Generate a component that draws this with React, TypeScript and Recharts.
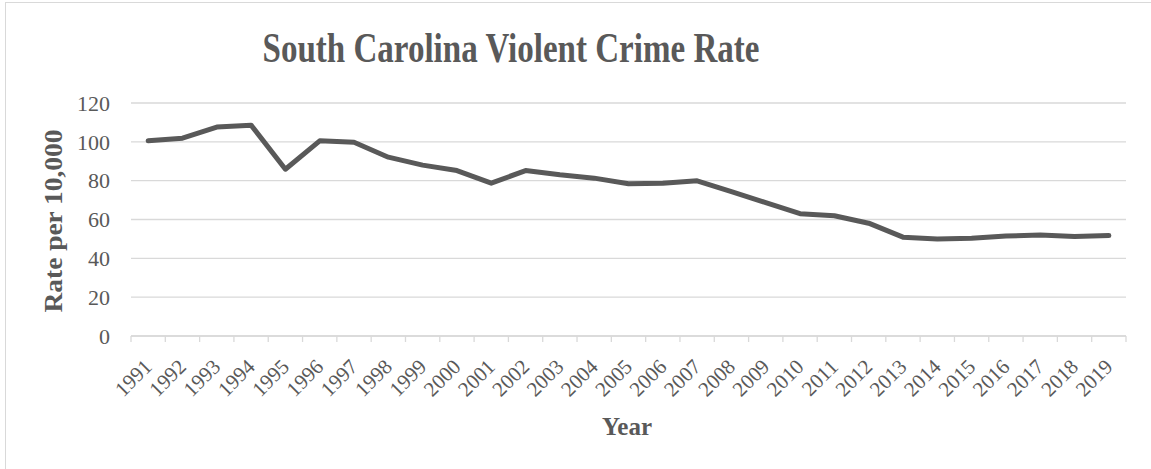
import { LineChart, Line, XAxis, YAxis, CartesianGrid } from "recharts";

const years = [
  "1991", "1992", "1993", "1994", "1995", "1996", "1997", "1998", "1999", "2000",
  "2001", "2002", "2003", "2004", "2005", "2006", "2007", "2008", "2009", "2010",
  "2011", "2012", "2013", "2014", "2015", "2016", "2017", "2018", "2019",
];

const rates = [
  100.5, 101.9, 107.6, 108.6, 85.9, 100.5, 99.8, 92.1, 88.0, 85.2,
  78.7, 85.2, 83.0, 81.3, 78.4, 78.7, 79.9, 74.4, 68.7, 63.0,
  61.9, 58.1, 50.9, 50.0, 50.3, 51.5, 52.0, 51.2, 51.7,
];

const yTicks = [0, 20, 40, 60, 80, 100, 120];

const data = years.map((year, i) => ({ year, rate: rates[i] }));

const FONT = "'Liberation Serif', 'Times New Roman', serif";
const TEXT = "#595959";
const GRID = "#d9d9d9";

const W = 1151;
const H = 469;
const PLOT_LEFT = 131;
const PLOT_RIGHT = 1126;
const PLOT_TOP = 103;
const PLOT_BOTTOM = 336;
const STEP = (PLOT_RIGHT - PLOT_LEFT) / years.length;

function YearTick(props: any) {
  const { x, index, payload } = props;
  const ax = x + 5;
  const ay = PLOT_BOTTOM + 32;
  return (
    <g>
      <line x1={x - STEP / 2} x2={x - STEP / 2} y1={PLOT_BOTTOM} y2={PLOT_BOTTOM + 6} stroke={GRID} strokeWidth={1.3} />
      {index === years.length - 1 && (
        <line x1={x + STEP / 2} x2={x + STEP / 2} y1={PLOT_BOTTOM} y2={PLOT_BOTTOM + 6} stroke={GRID} strokeWidth={1.3} />
      )}
      <text x={ax} y={ay} textAnchor="end" fill={TEXT} fontSize={21} fontFamily={FONT} transform={`rotate(-45, ${ax}, ${ay})`}>
        {payload.value}
      </text>
    </g>
  );
}

export default function App() {
  return (
    <div style={{ position: "fixed", left: 0, top: 0, width: W, height: H, overflow: "hidden", background: "#fff" }}>
      <div style={{ position: "absolute", left: 5, top: 2, width: 1200, height: 520, border: `1px solid ${GRID}` }} />
      <div style={{ position: "absolute", left: 0, top: 0 }}>
        <LineChart
          width={W}
          height={H}
          data={data}
          margin={{ top: PLOT_TOP, right: W - PLOT_RIGHT, bottom: 0, left: 0 }}
        >
          <CartesianGrid vertical={false} stroke={GRID} strokeWidth={1.3} />
          <XAxis
            dataKey="year"
            height={H - PLOT_BOTTOM}
            interval={0}
            padding={{ left: STEP / 2, right: STEP / 2 }}
            tickLine={false}
            axisLine={{ stroke: GRID, strokeWidth: 1.3 }}
            tick={<YearTick />}
          />
          <YAxis
            width={PLOT_LEFT}
            domain={[0, 120]}
            ticks={yTicks}
            tickLine={false}
            axisLine={false}
            tickSize={0}
            tickMargin={21}
            tick={{ fill: TEXT, fontSize: 22, fontFamily: FONT }}
          />
          <Line
            type="linear"
            dataKey="rate"
            stroke={TEXT}
            strokeWidth={5}
            strokeLinejoin="round"
            strokeLinecap="round"
            dot={false}
            activeDot={false}
            isAnimationActive={false}
          />
        </LineChart>
      </div>
      <svg width={W} height={H} style={{ position: "absolute", left: 0, top: 0, pointerEvents: "none" }}>
        <text x={511} y={62} textAnchor="middle" fill={TEXT} fontSize={43} fontWeight="bold" fontFamily={FONT} textLength={497} lengthAdjust="spacingAndGlyphs">
          South Carolina Violent Crime Rate
        </text>
        <text
          x={0}
          y={0}
          textAnchor="middle"
          fill={TEXT}
          fontSize={26}
          fontWeight="bold"
          fontFamily={FONT}
          textLength={183}
          lengthAdjust="spacingAndGlyphs"
          transform={`translate(62, 221) rotate(-90)`}
        >
          Rate per 10,000
        </text>
        <text x={627} y={435} textAnchor="middle" fill={TEXT} fontSize={26} fontWeight="bold" fontFamily={FONT} textLength={50} lengthAdjust="spacingAndGlyphs">
          Year
        </text>
      </svg>
    </div>
  );
}
